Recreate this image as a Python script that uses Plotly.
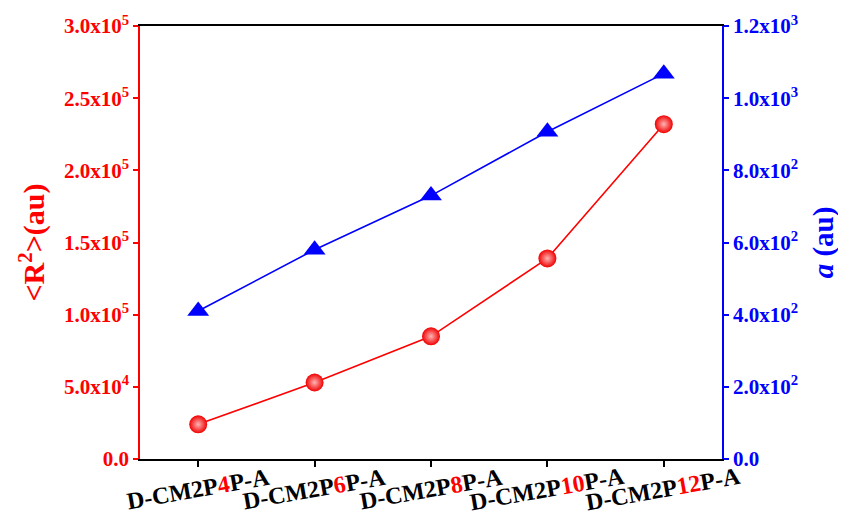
import plotly.graph_objects as go

categories = ["D-CM2P4P-A", "D-CM2P6P-A", "D-CM2P8P-A", "D-CM2P10P-A", "D-CM2P12P-A"]
chain_numbers = ["4", "6", "8", "10", "12"]
r2_values = [24000, 53000, 85000, 139000, 232000]
a_values = [410, 580, 730, 907, 1068]

left_tickvals = [0, 50000, 100000, 150000, 200000, 250000, 300000]
left_ticktext = ["0.0", "5.0x10<sup>4</sup>", "1.0x10<sup>5</sup>", "1.5x10<sup>5</sup>",
                 "2.0x10<sup>5</sup>", "2.5x10<sup>5</sup>", "3.0x10<sup>5</sup>"]
right_tickvals = [0, 200, 400, 600, 800, 1000, 1200]
right_ticktext = ["0.0", "2.0x10<sup>2</sup>", "4.0x10<sup>2</sup>", "6.0x10<sup>2</sup>",
                  "8.0x10<sup>2</sup>", "1.0x10<sup>3</sup>", "1.2x10<sup>3</sup>"]

x_ticktext = ["D-CM2P<span style='color:#ff0000'>%s</span>P-A" % n for n in chain_numbers]
xpos = list(range(len(categories)))

FONT = "Liberation Serif"
RED = "#ff0000"
BLUE = "#0000ff"

fig = go.Figure()
fig.add_trace(go.Scatter(
    x=xpos, y=r2_values, mode="lines+markers", name="<R2>",
    line=dict(color=RED, width=1.6),
    marker=dict(symbol="circle", size=18, color="#f00000",
                gradient=dict(type="radial", color="#ffb4b4"),
                line=dict(width=0)),
    yaxis="y", showlegend=False,
))
fig.add_trace(go.Scatter(
    x=xpos, y=a_values, mode="lines+markers", name="a",
    line=dict(color=BLUE, width=1.6),
    marker=dict(symbol="triangle-up", size=19, color=BLUE, line=dict(width=0)),
    yaxis="y2", showlegend=False,
))

# category labels, rotated and centred under each tick
for xp, label in zip(xpos, x_ticktext):
    fig.add_annotation(
        x=xp, xref="x", y=0, yref="paper",
        text=label, showarrow=False, textangle=-10,
        xanchor="center", yanchor="middle", yshift=-30,
        font=dict(family=FONT, size=24, color="black", weight="bold"),
    )

fig.update_layout(
    width=838, height=521,
    margin=dict(l=132, r=124, t=18, b=70, autoexpand=False),
    plot_bgcolor="white", paper_bgcolor="white",
    font=dict(family=FONT),
    xaxis=dict(
        range=[-0.5, 4.5], tickvals=xpos, ticktext=categories, showticklabels=False,
        showgrid=False, zeroline=False, automargin=False,
        showline=True, linecolor="black", linewidth=2, mirror=True,
        ticks="outside", ticklen=6, tickwidth=1.5, tickcolor="black",
    ),
    yaxis=dict(
        range=[0, 300000], tickvals=left_tickvals, ticktext=left_ticktext,
        showgrid=False, zeroline=False, automargin=False,
        showline=True, linecolor=RED, linewidth=1.5,
        ticks="outside", ticklen=5, tickwidth=1.5, tickcolor=RED,
        tickfont=dict(family=FONT, size=21, color=RED, weight="bold"),
        title=dict(text="&lt;R<sup>2</sup>&gt;(au)", standoff=10,
                   font=dict(family=FONT, size=30, color=RED, weight="bold")),
    ),
    yaxis2=dict(
        range=[0, 1200], tickvals=right_tickvals, ticktext=right_ticktext,
        overlaying="y", side="right", anchor="x", automargin=False,
        showgrid=False, zeroline=False,
        showline=True, linecolor=BLUE, linewidth=1.5,
        ticks="outside", ticklen=5, tickwidth=1.5, tickcolor=BLUE,
        tickfont=dict(family=FONT, size=21, color=BLUE, weight="bold"),
        title=dict(text="<i>a</i> (au)", standoff=16,
                   font=dict(family=FONT, size=29, color=BLUE, weight="bold")),
    ),
)

fig.write_html("out.html")
